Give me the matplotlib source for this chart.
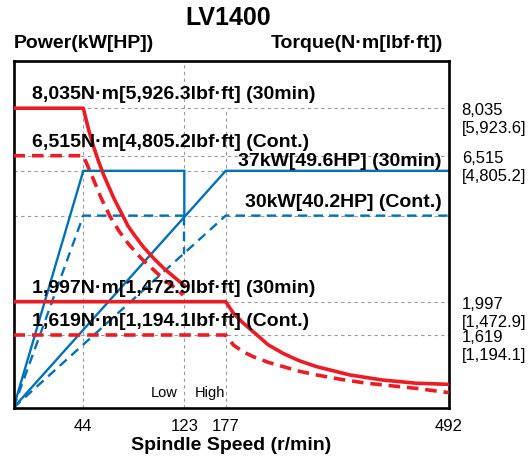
import matplotlib
matplotlib.use('Agg')
import matplotlib.pyplot as plt
import matplotlib.transforms as mtransforms
import numpy as np

plt.rcParams['font.family'] = ['Liberation Sans', 'DejaVu Sans']

RED = '#ED1C24'
BLUE = '#0072BC'
GRID = '#9A9A9A'

# spindle speed ticks (r/min)
speed_ticks = [44, 123, 177, 492]

# power curves (kW)
low_30min_speed = [0, 44, 123, 123]
low_30min_power = [0, 37, 37, 30]
low_cont_speed = [0, 44, 123, 123]
low_cont_power = [0, 30, 30, 24]
high_30min_speed = [0, 177, 492]
high_30min_power = [0, 37, 37]
high_cont_speed = [0, 177, 492]
high_cont_power = [0, 30, 30]

# torque curves (N·m)
low_30min_t_speed = [0, 44, 48, 52, 56, 60, 68, 79, 83, 91, 99, 107, 115, 123]
low_30min_torque = [8035, 8035, 7370, 6810, 6330, 5910, 5190, 4340, 4110,
                    3690, 3340, 3030, 2760, 2500]
low_cont_t_speed = [0, 44, 51, 58, 65, 72, 79, 89, 99, 108, 118, 122]
low_cont_torque = [6515, 6515, 5870, 5200, 4630, 4180, 3800, 3350, 2980,
                   2650, 2360, 2200]
high_30min_t_speed = [0, 177, 188, 201, 216, 237, 258, 280, 305, 352, 399, 446, 492]
high_30min_torque = [1997, 1997, 1865, 1760, 1655, 1400, 1210, 1050, 915,
                     730, 615, 545, 520]
high_cont_t_speed = [0, 177, 188, 201, 216, 237, 258, 280, 305, 340, 376, 446, 492]
high_cont_torque = [1619, 1619, 1395, 1250, 1135, 1010, 915, 815, 730, 630,
                    545, 430, 335]

power_levels = [37, 30]
power_labels = ['37kW[49.6HP] (30min)', '30kW[40.2HP] (Cont.)']
torque_levels = [8035, 6515, 1997, 1619]
torque_labels = ['8,035N·m[5,926.3lbf·ft] (30min)',
                 '6,515N·m[4,805.2lbf·ft] (Cont.)',
                 '1,997N·m[1,472.9lbf·ft] (30min)',
                 '1,619N·m[1,194.1lbf·ft] (Cont.)']
torque_ticks = ['8,035', '6,515', '1,997', '1,619']
torque_ticks_lbf = ['[5,923.6]', '[4,805.2]', '[1,472.9]', '[1,194.1]']

# the chart is drawn on uneven (schematic) axes
SPEED_BREAKS = [0, 44, 123, 177, 492]
SPEED_POS = [0, 69.8, 170.8, 212.2, 435.5]
TORQUE_BREAKS = [0, 1619, 1997, 6515, 8035, 9550]
TORQUE_POS = [0, 72.7, 106, 252, 299.5, 347]


def piecewise(breaks, pos):
    fwd = lambda v: np.interp(v, breaks, pos)
    inv = lambda p: np.interp(p, pos, breaks)
    return fwd, inv


def grid_line(ax, xs, ys, transform):
    ax.plot(xs, ys, color=GRID, lw=0.8, ls=(0, (3, 3)), zorder=0,
            transform=transform)


fig = plt.figure(figsize=(5.3, 4.61), dpi=100)
ax = fig.add_axes([13.5 / 530, 53.3 / 461, 435.5 / 530, 347 / 461])
ax.set_xscale('function', functions=piecewise(SPEED_BREAKS, SPEED_POS))
ax.set_xlim(0, 492)
ax.set_ylim(0, 54.2)
ax2 = ax.twinx()
ax2.set_yscale('function', functions=piecewise(TORQUE_BREAKS, TORQUE_POS))
ax2.set_ylim(0, 9550)

x_torque = mtransforms.blended_transform_factory(ax.transData, ax2.transData)
axes_torque = mtransforms.blended_transform_factory(ax.transAxes, ax2.transData)

# grid
for p in power_levels:
    grid_line(ax, [0, 1], [p, p], ax.get_yaxis_transform())
for t in torque_levels:
    grid_line(ax, [0, 1], [t, t], axes_torque)
grid_line(ax, [44, 44], [0, 8035], x_torque)
grid_line(ax, [177, 177], [0, 8035], x_torque)
grid_line(ax, [123, 123], [0, 1], ax.get_xaxis_transform())

# power
solid_b = dict(color=BLUE, lw=1.7, solid_joinstyle='miter')
dash_b = dict(color=BLUE, lw=1.7, ls=(0, (4, 2.6)))
ax.plot(low_30min_speed, low_30min_power, **solid_b)
ax.plot(low_cont_speed[:3], low_cont_power[:3], **dash_b)
ax.plot(low_cont_speed[2:], low_cont_power[2:], **dash_b)
ax.plot(high_30min_speed, high_30min_power, **solid_b)
ax.plot(high_cont_speed, high_cont_power, **dash_b)

# torque
solid_r = dict(color=RED, lw=2.6)
dash_r = dict(color=RED, lw=2.6, ls=(0, (3.2, 1.9)))
ax2.plot(low_30min_t_speed, low_30min_torque, **solid_r)
ax2.plot(low_cont_t_speed, low_cont_torque, **dash_r)
ax2.plot(high_30min_t_speed, high_30min_torque, **solid_r)
ax2.plot(high_cont_t_speed, high_cont_torque, **dash_r)

# labels inside the plot
bold = dict(fontsize=14, fontweight='bold', va='baseline')
for p, lab, dy in zip(power_levels, power_labels, [4.5, 9]):
    ax.annotate(lab, xy=(0.983, p), xycoords=('axes fraction', 'data'),
                xytext=(0, dy), textcoords='offset pixels', ha='right', **bold)
for t, lab in zip(torque_levels, torque_labels):
    ax2.annotate(lab, xy=(0.0425, t), xycoords=('axes fraction', 'data'),
                 xytext=(0, 9), textcoords='offset pixels', ha='left', **bold)

small = dict(fontsize=10.5, va='baseline')
ax2.annotate('Low', xy=(123, 0.031), xycoords=('data', 'axes fraction'),
             xytext=(-7, 0), textcoords='offset pixels', ha='right', **small)
ax2.annotate('High', xy=(123, 0.031), xycoords=('data', 'axes fraction'),
             xytext=(10, 0), textcoords='offset pixels', ha='left', **small)

# torque values on the right
right = dict(fontsize=12, va='baseline', ha='left')
for t, lab, lab2 in zip(torque_levels, torque_ticks, torque_ticks_lbf):
    ax2.annotate(lab, xy=(1, t), xycoords=('axes fraction', 'data'),
                 xytext=(12.7, -7), textcoords='offset pixels', **right)
    ax2.annotate(lab2, xy=(1, t), xycoords=('axes fraction', 'data'),
                 xytext=(12.7, -25), textcoords='offset pixels', **right)

# axes styling
ax.set_xticks(speed_ticks)
ax.set_xticklabels([str(s) for s in speed_ticks], fontsize=12)
ax.tick_params(axis='x', length=0, pad=8)
ax.set_yticks([])
ax2.set_yticks([])
ax.minorticks_off()
ax2.minorticks_off()
for s in ax.spines.values():
    s.set_linewidth(1.9)
for s in ax2.spines.values():
    s.set_visible(False)
ax.set_xlabel('Spindle Speed (r/min)', fontsize=14, fontweight='bold', labelpad=2)

fig.text(228 / 530, 1 - 25 / 461, 'LV1400', fontsize=18, fontweight='bold',
         ha='center', va='baseline')
fig.text(13.3 / 530, 1 - 47.7 / 461, 'Power(kW[HP])', fontsize=14,
         fontweight='bold', ha='left', va='baseline')
fig.text(443 / 530, 1 - 47.7 / 461, 'Torque(N·m[lbf·ft])', fontsize=14,
         fontweight='bold', ha='right', va='baseline')

fig.savefig('out.png', dpi=100)
